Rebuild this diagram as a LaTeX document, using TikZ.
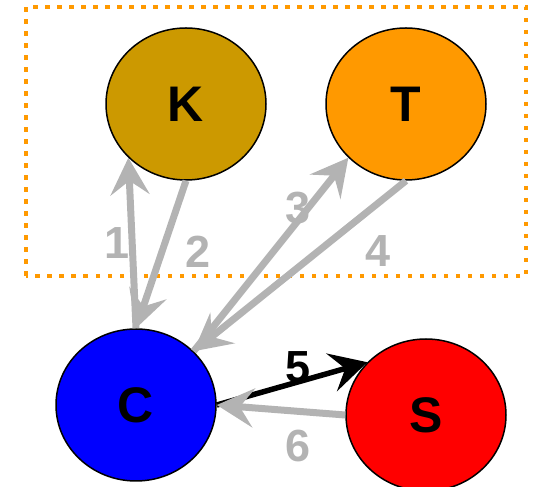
\documentclass[tikz,border=0pt]{standalone}
\usepackage{fontspec}
\setsansfont{Liberation Sans}
\usetikzlibrary{shapes.geometric,arrows.meta}
\definecolor{kgold}{HTML}{CC9900}
\definecolor{torange}{HTML}{FF9900}
\definecolor{edgegray}{HTML}{B3B3B3}

\begin{document}
\begin{tikzpicture}[x=1pt,y=1pt,
  agent/.style={ellipse,draw=black,line width=1.5pt,minimum width=160pt,minimum height=152pt,
    font=\fontsize{50}{50}\selectfont\sffamily\bfseries},
  flow/.style={line width=7pt,edgegray,-{Stealth[length=37pt,width=39pt,inset=14pt]}},
  num/.style={font=\fontsize{45}{45}\selectfont\sffamily\bfseries,text=edgegray}]
\useasboundingbox (0,0) rectangle (533,487);

% dotted group box
\draw[torange,line width=4.5pt,dash pattern=on 4.5pt off 7.5pt] (26,211) rectangle (526,480);

% agents
\node[agent,fill=kgold] (K) at (186,383) {K};
\node[agent,fill=torange] (T) at (406,383) {T};
\node[agent,fill=blue] (C) at (136,82) {C};
\node[agent,fill=red] (S) at (426,72) {S};

% flows between agents
\draw[flow] (C.north) -- (K.-137);
\draw[flow] (K.south) -- (C.north);
\draw[flow] (C.43) -- (T.-137);
\draw[flow] (T.south) -- (C.43);
\draw[flow,black,line width=5.5pt] (C.east) -- (S.138);
\draw[flow] (S.west) -- (C.east);

% step numbers
\node[num] (n1) at (117,244) {1};
\node[num] (n2) at (198,235) {2};
\node[num] (n3) at (298,279) {3};
\node[num] (n4) at (378,236) {4};
\node[num,text=black] (n5) at (298,120) {5};
\node[num] (n6) at (298,41) {6};
\end{tikzpicture}
\end{document}
